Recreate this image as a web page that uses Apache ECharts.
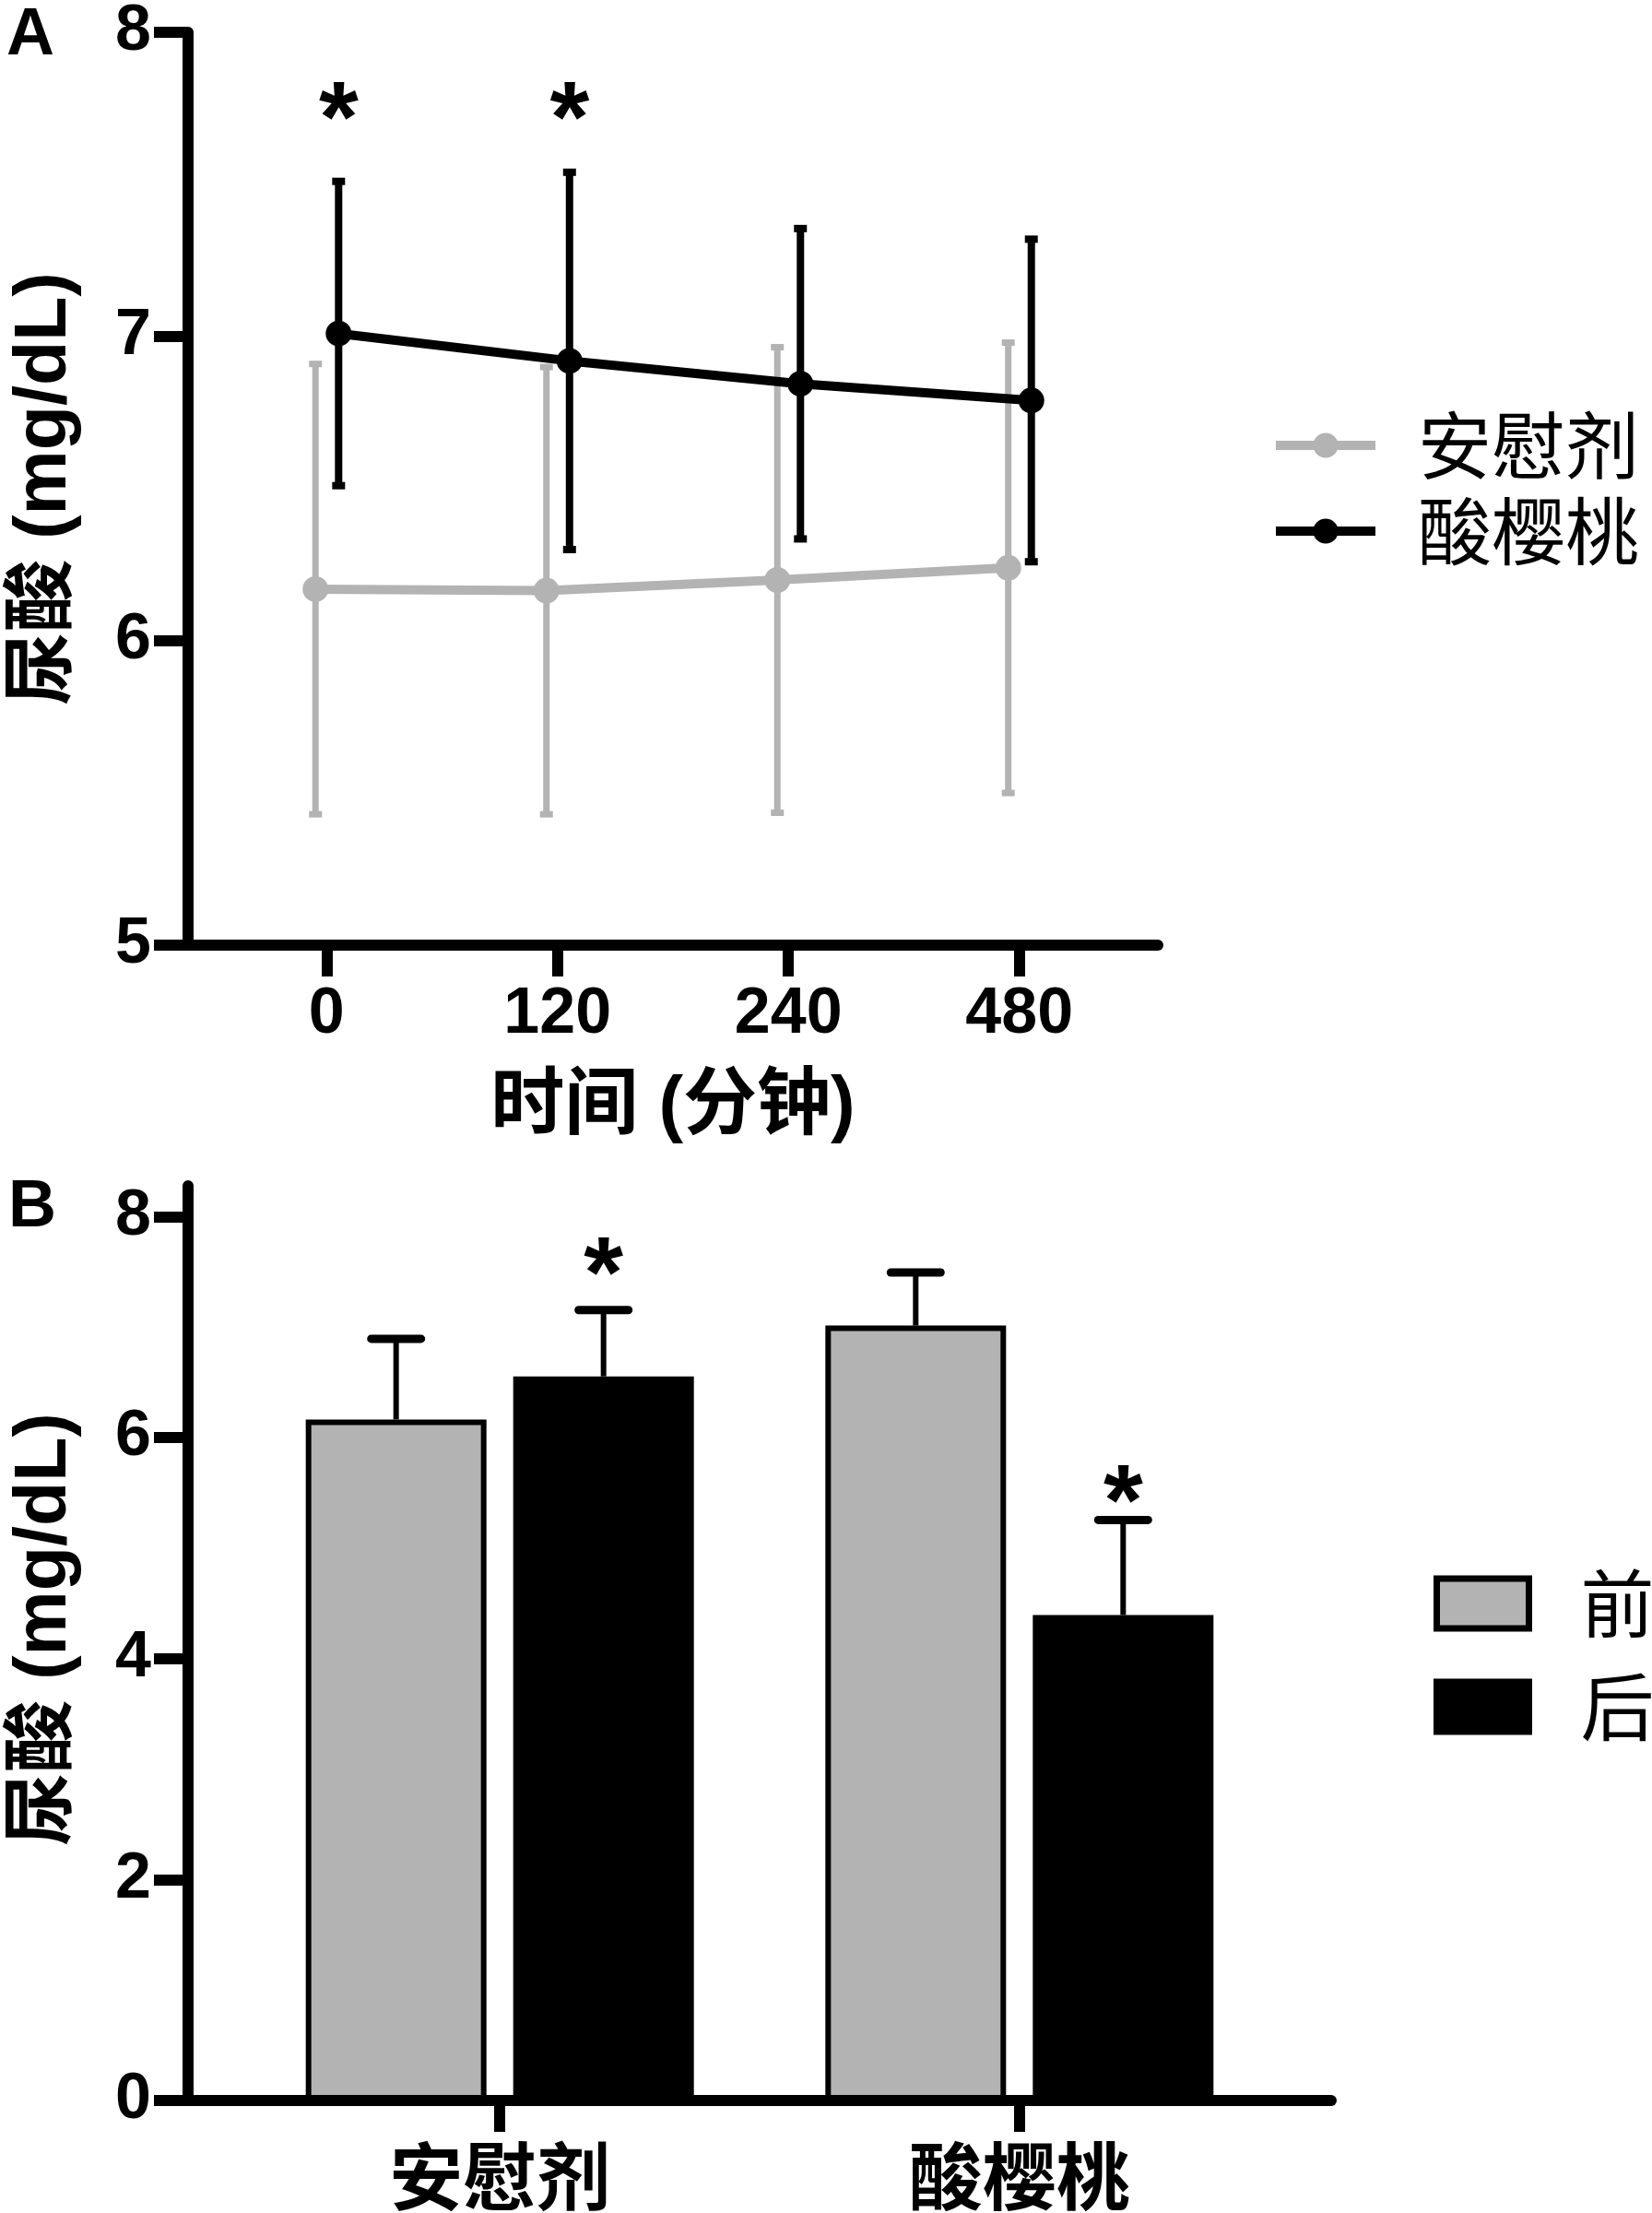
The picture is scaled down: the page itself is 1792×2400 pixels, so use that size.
<!DOCTYPE html>
<html>
<head>
<meta charset="utf-8">
<script src="https://cdn.jsdelivr.net/npm/echarts@6/dist/echarts.min.js"></script>
<style>
  html, body { margin: 0; padding: 0; background: #fff; }
  #chart { width: 1792px; height: 2400px; }
</style>
</head>
<body>
<div id="chart"></div>
<script>
// panel A: uric acid over time (mean, SD)
const timeLabels = ["0", "120", "240", "480"];
const placeboMean = [6.17, 6.165, 6.20, 6.24];
const placeboSD = [0.74, 0.735, 0.765, 0.74];
const cherryMean = [7.01, 6.92, 6.845, 6.79];
const cherrySD = [0.50, 0.62, 0.51, 0.53];
const starA = [7.77, 7.77, null, null];

// panel B: before / after (mean, SD)
const groups = ["安慰剂", "酸樱桃"];
const beforeMean = [6.165, 7.015];
const beforeSD = [0.73, 0.48];
const afterMean = [6.555, 4.395];
const afterSD = [0.60, 0.86];
const starB = [7.63, 5.57];

const GRAY = "#b3b3b3";
const BLACK = "#000";
const NUM_FONT = "Liberation Sans";
const MIX_FONT = "'Liberation Sans', 'Noto Sans CJK SC'";
const CJK_FONT = "'Noto Sans CJK SC'";
const STAR_SIZE = 110;
// horizontal nudge of the two groups in panel A (axis units)
const DODGE_PLACEBO = -0.048;
const DODGE_CHERRY = 0.052;
// half distance between the two bars of a group in panel B (px)
const BAR_SHIFT = 112.5;

//vertical error bar with caps at both ends
function errorBar(color, lineW, capW, capH) {
    return function (params, api) {
        const x = api.value(0);
        const lo = api.coord([x, api.value(1)]);
        const hi = api.coord([x, api.value(2)]);
        return {
            type: "group",
            children: [
                { type: "line", shape: { x1: lo[0], y1: lo[1], x2: hi[0], y2: hi[1] },
                  style: { stroke: color, lineWidth: lineW } },
                { type: "rect", shape: { x: hi[0] - capW / 2, y: hi[1] - capH / 2, width: capW, height: capH },
                  style: { fill: color } },
                { type: "rect", shape: { x: lo[0] - capW / 2, y: lo[1] - capH / 2, width: capW, height: capH },
                  style: { fill: color } }
            ]
        };
    };
}

//upper-only error bar for the bars, shifted to its bar
function upperBar(shift) {
    return function (params, api) {
        const x = api.value(0);
        const top = api.coord([x, api.value(1)]);
        const cap = api.coord([x, api.value(2)]);
        const cx = top[0] + shift;
        return {
            type: "group",
            children: [
                { type: "line", shape: { x1: cx, y1: top[1], x2: cx, y2: cap[1] },
                  style: { stroke: BLACK, lineWidth: 6 } },
                { type: "line", shape: { x1: cx - 27, y1: cap[1], x2: cx + 27, y2: cap[1] },
                  style: { stroke: BLACK, lineWidth: 9, lineCap: "round" } }
            ]
        };
    };
}

function starMark(shift) {
    return function (params, api) {
        const p = api.coord([api.value(0), api.value(1)]);
        return {
            type: "text",
            x: p[0] + shift,
            y: p[1] + STAR_SIZE * 0.21,
            style: {
                text: "*", fill: BLACK, fontSize: STAR_SIZE, fontWeight: "bold",
                fontFamily: NUM_FONT, align: "center", verticalAlign: "middle"
            }
        };
    };
}

const placeboX = placeboMean.map((v, i) => i + DODGE_PLACEBO);
const cherryX = cherryMean.map((v, i) => i + DODGE_CHERRY);

const axisLineStyle = { show: true, onZero: false, lineStyle: { color: BLACK, width: 12 } };
const tickStyle = (len, values) => ({
    show: true, inside: false, length: len, customValues: values,
    lineStyle: { color: BLACK, width: 12 }
});
const numLabel = (margin, values, fmt) => ({
    show: true, customValues: values, formatter: fmt, margin: margin,
    color: BLACK, fontSize: 70, fontWeight: "bold", fontFamily: NUM_FONT
});

let option = {
    animation: false,
    backgroundColor: "#fff",
    title: [
        { text: "A", left: 7, top: 3, padding: 0,
          textStyle: { fontSize: 72, fontWeight: "bold", fontFamily: NUM_FONT, color: BLACK } },
        { text: "B", left: 9, top: 1274, padding: 0,
          textStyle: { fontSize: 72, fontWeight: "bold", fontFamily: NUM_FONT, color: BLACK } }
    ],
    grid: [
        { left: 204, top: 30, width: 1052, height: 995 },
        { left: 204, top: 1286, width: 1240, height: 996 }
    ],
    legend: [
        {
            data: ["安慰剂", "酸樱桃"],
            orient: "vertical", left: 1379, top: 443, padding: 0,
            itemWidth: 108, itemHeight: 34, itemGap: 13,
            lineStyle: { width: 10 },
            textStyle: { fontSize: 80, lineHeight: 80, fontFamily: CJK_FONT, color: BLACK,
                         padding: [0, 0, 0, 41] }
        },
        {
            data: ["前", "后"],
            orient: "vertical", left: 1555, top: 1699, padding: 0,
            icon: "rect", itemWidth: 100, itemHeight: 54, itemGap: 32,
            itemStyle: { borderColor: BLACK, borderWidth: 7 },
            textStyle: { fontSize: 80, lineHeight: 80, fontFamily: CJK_FONT, color: BLACK,
                         padding: [0, 0, 0, 51] }
        }
    ],
    xAxis: [
        {
            type: "value", gridIndex: 0, min: -0.6, max: 3.6,
            axisLine: axisLineStyle,
            axisTick: tickStyle(34, [0, 1, 2, 3]),
            axisLabel: numLabel(41, [0, 1, 2, 3], v => timeLabels[Math.round(v)]),
            splitLine: { show: false },
            name: "时间 (分钟)", nameLocation: "middle", nameGap: 136,
            nameTextStyle: { fontSize: 80, fontWeight: "bold", fontFamily: MIX_FONT, color: BLACK }
        },
        {
            type: "value", gridIndex: 1, min: -0.6, max: 1.6,
            axisLine: axisLineStyle,
            axisTick: tickStyle(34, [0, 1]),
            axisLabel: {
                show: true, customValues: [0, 1], formatter: v => groups[Math.round(v)],
                margin: 42, color: BLACK, fontSize: 80, fontWeight: "bold", fontFamily: CJK_FONT
            },
            splitLine: { show: false }
        }
    ],
    yAxis: [
        {
            type: "value", gridIndex: 0, min: 5, max: 8, interval: 1,
            axisLine: axisLineStyle,
            axisTick: tickStyle(37, [5, 6, 7, 8]),
            axisLabel: numLabel(40, [5, 6, 7, 8]),
            splitLine: { show: false },
            name: "尿酸 (mg/dL)", nameLocation: "middle", nameGap: 115,
            nameTextStyle: { fontSize: 79, fontWeight: "bold", fontFamily: MIX_FONT, color: BLACK }
        },
        {
            type: "value", gridIndex: 1, min: 0, max: 8.28,
            axisLine: axisLineStyle,
            axisTick: tickStyle(37, [0, 2, 4, 6, 8]),
            axisLabel: numLabel(40, [0, 2, 4, 6, 8]),
            splitLine: { show: false },
            name: "尿酸 (mg/dL)", nameLocation: "middle", nameGap: 115,
            nameTextStyle: { fontSize: 79, fontWeight: "bold", fontFamily: MIX_FONT, color: BLACK,
                             padding: [0, 0, 0, 30] }
        }
    ],
    series: [
        {
            name: "安慰剂 SD", type: "custom", xAxisIndex: 0, yAxisIndex: 0, z: 1,
            renderItem: errorBar(GRAY, 7, 14, 7),
            encode: { x: 0, y: [1, 2] },
            data: placeboMean.map((m, i) => [placeboX[i], m - placeboSD[i], m + placeboSD[i]])
        },
        {
            name: "安慰剂", type: "line", xAxisIndex: 0, yAxisIndex: 0, z: 2,
            data: placeboMean.map((m, i) => [placeboX[i], m]),
            symbol: "circle", symbolSize: 28,
            lineStyle: { color: GRAY, width: 10 },
            itemStyle: { color: GRAY }
        },
        {
            name: "酸樱桃 SD", type: "custom", xAxisIndex: 0, yAxisIndex: 0, z: 3,
            renderItem: errorBar(BLACK, 8, 14, 8),
            encode: { x: 0, y: [1, 2] },
            data: cherryMean.map((m, i) => [cherryX[i], m - cherrySD[i], m + cherrySD[i]])
        },
        {
            name: "酸樱桃", type: "line", xAxisIndex: 0, yAxisIndex: 0, z: 4,
            data: cherryMean.map((m, i) => [cherryX[i], m]),
            symbol: "circle", symbolSize: 28,
            lineStyle: { color: BLACK, width: 10 },
            itemStyle: { color: BLACK }
        },
        {
            name: "显著A", type: "custom", xAxisIndex: 0, yAxisIndex: 0, z: 5,
            renderItem: starMark(0),
            encode: { x: 0, y: 1 },
            data: starA.map((s, i) => [cherryX[i], s]).filter(d => d[1] != null)
        },
        {
            name: "前", type: "bar", xAxisIndex: 1, yAxisIndex: 1,
            data: beforeMean.map((m, i) => [i, m]),
            barWidth: 196, barGap: "14.8%",
            itemStyle: { color: GRAY, borderColor: BLACK, borderWidth: 6 }
        },
        {
            name: "后", type: "bar", xAxisIndex: 1, yAxisIndex: 1,
            data: afterMean.map((m, i) => [i, m]),
            barWidth: 196, barGap: "14.8%",
            itemStyle: { color: BLACK, borderColor: BLACK, borderWidth: 6 }
        },
        {
            name: "前 SD", type: "custom", xAxisIndex: 1, yAxisIndex: 1, z: 3,
            renderItem: upperBar(-BAR_SHIFT),
            encode: { x: 0, y: [1, 2] },
            data: beforeMean.map((m, i) => [i, m, m + beforeSD[i]])
        },
        {
            name: "后 SD", type: "custom", xAxisIndex: 1, yAxisIndex: 1, z: 3,
            renderItem: upperBar(BAR_SHIFT),
            encode: { x: 0, y: [1, 2] },
            data: afterMean.map((m, i) => [i, m, m + afterSD[i]])
        },
        {
            name: "显著B", type: "custom", xAxisIndex: 1, yAxisIndex: 1, z: 5,
            renderItem: starMark(BAR_SHIFT),
            encode: { x: 0, y: 1 },
            data: starB.map((s, i) => [i, s])
        }
    ]
};

let myChart = echarts.init(document.getElementById("chart"), null, { renderer: "canvas" });
myChart.setOption(option);
</script>
</body>
</html>
